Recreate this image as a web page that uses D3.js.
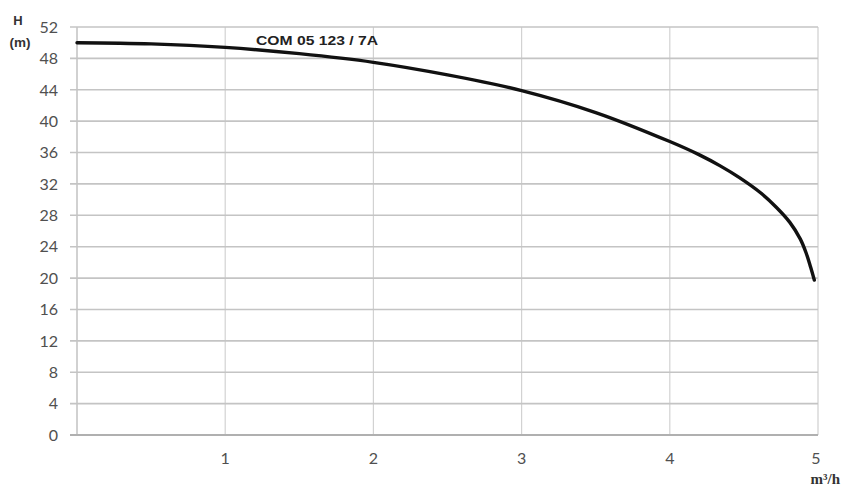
<!DOCTYPE html>
<html>
<head>
<meta charset="utf-8">
<script src="https://cdn.jsdelivr.net/npm/d3@7"></script>
<style>
  html, body { margin: 0; padding: 0; background: #fff; }
  svg { display: block; }
</style>
</head>
<body>
<svg id="chart" width="843" height="486"></svg>
<script>
// Pump performance curve: head H (m) against flow Q (m³/h)
const flow = [0, 0.5, 1.0, 1.5, 2.0, 2.5, 3.0, 3.5, 4.0, 4.2, 4.34, 4.47, 4.61, 4.72, 4.81, 4.88, 4.92, 4.95, 4.975];
const head = [50.0, 49.85, 49.4, 48.6, 47.5, 45.9, 43.9, 41.1, 37.4, 35.7, 34.3, 32.8, 30.9, 29.0, 27.1, 25.0, 23.2, 21.4, 19.75];
const xTicks = [1, 2, 3, 4, 5];
const yTicks = [0, 4, 8, 12, 16, 20, 24, 28, 32, 36, 40, 44, 48, 52];
const modelName = "COM 05 123 / 7A";
const xUnit = "m³/h";
const yUnit = ["H", "(m)"];

const svg = d3.select("#chart");
const plotLeft = 77, plotRight = 818, plotTop = 27, plotBottom = 435;

const x = d3.scaleLinear().domain([0, 5]).range([plotLeft, plotRight]);
const y = d3.scaleLinear().domain([0, 52]).range([plotBottom, plotTop]);

const font = "Lato, 'Open Sans', sans-serif";

// vertical gridlines
svg.append("g")
  .selectAll("line")
  .data(xTicks.filter(d => d < 5))
  .join("line")
  .attr("x1", d => x(d)).attr("x2", d => x(d))
  .attr("y1", plotTop).attr("y2", plotBottom)
  .attr("stroke", "#d2d2d2").attr("stroke-width", 1.2);

// right border and left axis
svg.append("line")
  .attr("x1", plotRight).attr("x2", plotRight).attr("y1", plotTop).attr("y2", plotBottom)
  .attr("stroke", "#cfcfcf").attr("stroke-width", 1.2);
svg.append("line")
  .attr("x1", plotLeft).attr("x2", plotLeft).attr("y1", plotTop).attr("y2", plotBottom)
  .attr("stroke", "#b8b8b8").attr("stroke-width", 1.3);

// horizontal gridlines with small ticks left of the axis
svg.append("g")
  .selectAll("line")
  .data(yTicks)
  .join("line")
  .attr("x1", plotLeft - 7).attr("x2", plotRight)
  .attr("y1", d => y(d)).attr("y2", d => y(d))
  .attr("stroke", d => d === 0 ? "#b0b0b0" : "#c4c4c4")
  .attr("stroke-width", d => d === 0 ? 1.8 : 1.6);

// y tick labels
svg.append("g")
  .selectAll("text")
  .data(yTicks)
  .join("text")
  .attr("x", 58).attr("y", d => y(d))
  .attr("dy", "0.36em")
  .attr("text-anchor", "end")
  .attr("font-family", font).attr("font-size", 16)
  .attr("fill", "#505050")
  .text(d => d);

// x tick labels
svg.append("g")
  .selectAll("text")
  .data(xTicks)
  .join("text")
  .attr("x", d => x(d) - (d === 5 ? 2 : 0)).attr("y", 458)
  .attr("dy", "0.36em")
  .attr("text-anchor", "middle")
  .attr("font-family", font).attr("font-size", 16)
  .attr("fill", "#505050")
  .text(d => d);

// axis units
svg.append("text")
  .attr("x", 840).attr("y", 484)
  .attr("text-anchor", "end")
  .attr("font-family", "'Liberation Serif', serif").attr("font-weight", "bold")
  .attr("font-size", 15).attr("fill", "#333")
  .text(xUnit);

svg.append("text")
  .attr("x", 18).attr("y", 25)
  .attr("text-anchor", "middle")
  .attr("font-family", "'Liberation Sans', Arial, sans-serif").attr("font-weight", "bold")
  .attr("font-size", 13).attr("fill", "#333")
  .text(yUnit[0]);
svg.append("text")
  .attr("x", 20).attr("y", 47)
  .attr("text-anchor", "middle")
  .attr("font-family", "'Liberation Sans', Arial, sans-serif").attr("font-weight", "bold")
  .attr("font-size", 13.5).attr("fill", "#333")
  .text(yUnit[1]);

// model name
svg.append("text")
  .attr("x", 256).attr("y", 45)
  .attr("font-family", "'Liberation Sans', Arial, sans-serif").attr("font-weight", "bold")
  .attr("font-size", 13.5).attr("fill", "#222")
  .attr("textLength", 122).attr("lengthAdjust", "spacingAndGlyphs")
  .text(modelName);

// performance curve
const pts = flow.map((q, i) => [q, head[i]]);
const line = d3.line()
  .x(d => x(d[0])).y(d => y(d[1]))
  .curve(d3.curveCatmullRom.alpha(0.5));

svg.append("path")
  .datum(pts)
  .attr("d", line)
  .attr("fill", "none")
  .attr("stroke", "#111")
  .attr("stroke-width", 3.4)
  .attr("stroke-linecap", "round");
</script>
</body>
</html>
